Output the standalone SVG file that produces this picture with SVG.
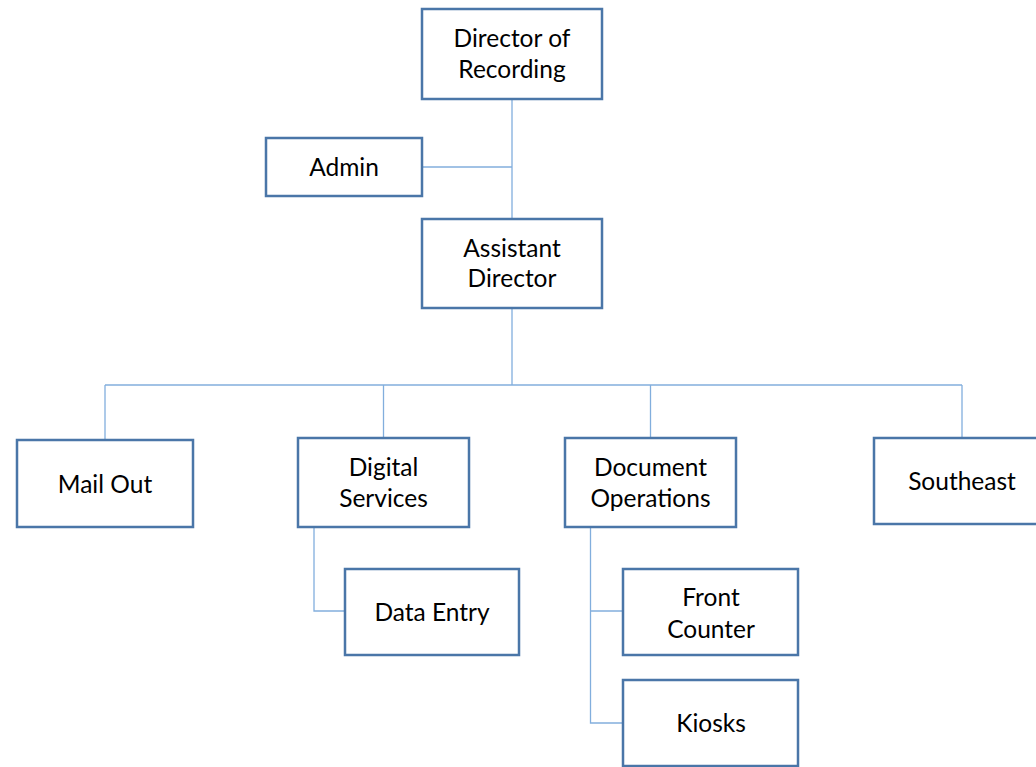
<svg xmlns="http://www.w3.org/2000/svg" width="1036" height="767" viewBox="0 0 1036 767">
<style>
.box{fill:#fff;stroke:#4A76A8;stroke-width:2.5}
.ln{fill:none;stroke:#82AEDD;stroke-width:1.3}
text{font-family:Lato,"Liberation Sans",sans-serif;font-size:24.5px;fill:#000;text-anchor:middle}
</style>
<rect width="1036" height="767" fill="#fff"/>
<g id="connectors">
<path class="ln" d="M512 99V219M422 167H512"/>
<path class="ln" d="M512 308V385M105 385H962M105 385V440M383.5 385V438M650.5 385V438M962 385V438"/>
<path class="ln" d="M314 527V611H345"/>
<path class="ln" d="M590.5 527V723H623M590.5 611H623"/>
</g>
<g id="director"><rect class="box" x="422" y="9" width="180" height="90"/><text x="512" y="47">Director of</text><text x="512" y="78">Recording</text></g>
<g id="admin"><rect class="box" x="266" y="138" width="156" height="58"/><text x="344" y="176">Admin</text></g>
<g id="assistant"><rect class="box" x="422" y="219" width="180" height="89"/><text x="512" y="257">Assistant</text><text x="512" y="287">Director</text></g>
<g id="mailout"><rect class="box" x="17" y="440" width="176" height="87"/><text x="105" y="493">Mail Out</text></g>
<g id="digital"><rect class="box" x="298" y="438" width="171" height="89"/><text x="383.5" y="476">Digital</text><text x="383.5" y="507">Services</text></g>
<g id="dataentry"><rect class="box" x="345" y="569" width="174" height="86"/><text x="432" y="621">Data Entry</text></g>
<g id="docops"><rect class="box" x="565" y="438" width="171" height="89"/><text x="650.5" y="476">Document</text><text x="650.5" y="507">Operations</text></g>
<g id="southeast"><rect class="box" x="874" y="438" width="176" height="86"/><text x="962" y="490">Southeast</text></g>
<g id="frontcounter"><rect class="box" x="623" y="569" width="175" height="86"/><text x="711" y="606">Front</text><text x="711" y="638">Counter</text></g>
<g id="kiosks"><rect class="box" x="623" y="680" width="175" height="86"/><text x="711" y="732">Kiosks</text></g>
</svg>
